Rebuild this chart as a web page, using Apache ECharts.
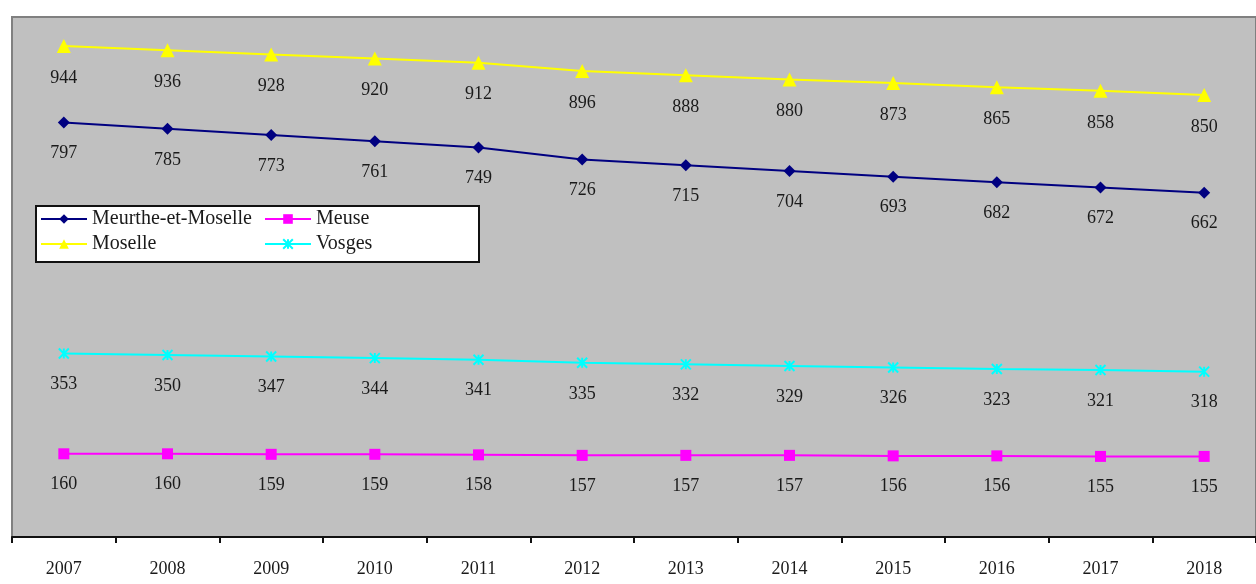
<!DOCTYPE html>
<html>
<head>
<meta charset="utf-8">
<script src="https://cdn.jsdelivr.net/npm/echarts@6/dist/echarts.min.js"></script>
<style>
html, body { margin: 0; padding: 0; background: #fff; }
#chart01 { width: 1256px; height: 584px; }
</style>
</head>
<body>
<div id="chart01"></div>
<script>
var years = ['2007','2008','2009','2010','2011','2012','2013','2014','2015','2016','2017','2018'];
var meurthe = [797, 785, 773, 761, 749, 726, 715, 704, 693, 682, 672, 662];
var meuse = [160, 160, 159, 159, 158, 157, 157, 157, 156, 156, 155, 155];
var moselle = [944, 936, 928, 920, 912, 896, 888, 880, 873, 865, 858, 850];
var vosges = [353, 350, 347, 344, 341, 335, 332, 329, 326, 323, 321, 318];

var serif = '"Liberation Serif", "DejaVu Serif", serif';
var crossPath = 'path://M0,0L10,10M10,0L0,10M5,0L5,10';

function lineSeries(name, data, color, symbol, size) {
    return {
        name: name,
        type: 'line',
        data: data,
        symbol: symbol,
        symbolSize: size,
        lineStyle: { color: color, width: 2 },
        itemStyle: { color: color },
        label: {
            show: true,
            position: 'bottom',
            distance: 16,
            fontFamily: serif,
            fontSize: 18,
            color: '#1a1a1a'
        },
        animation: false
    };
}

var legendText = { fontFamily: serif, fontSize: 20, color: '#1a1a1a' };

var myChart = echarts.init(document.getElementById('chart01'));
var option = {
    backgroundColor: '#fff',
    grid: {
        left: 12,
        top: 17,
        width: 1250,
        height: 520,
        show: true,
        backgroundColor: '#c0c0c0',
        borderColor: '#808080',
        borderWidth: 2
    },
    graphic: [{
        type: 'rect',
        shape: { x: 36, y: 206, width: 443, height: 56 },
        style: { fill: '#fff', stroke: '#111', lineWidth: 2 },
        z: 50
    }],
    legend: [{
        data: ['Meurthe-et-Moselle', 'Moselle'],
        orient: 'vertical',
        left: 40,
        top: 209,
        itemWidth: 46,
        itemHeight: 12,
        itemGap: 5,
        padding: 0,
        textStyle: legendText,
        z: 60
    }, {
        data: ['Meuse', 'Vosges'],
        orient: 'vertical',
        left: 264,
        top: 209,
        itemWidth: 46,
        itemHeight: 12,
        itemGap: 5,
        padding: 0,
        textStyle: legendText,
        z: 60
    }],
    xAxis: {
        type: 'category',
        data: years,
        boundaryGap: true,
        axisLine: { lineStyle: { color: '#111', width: 2 } },
        axisTick: { show: true, length: 6, lineStyle: { color: '#111', width: 2 } },
        axisLabel: { fontFamily: serif, fontSize: 18, color: '#1a1a1a', margin: 23 }
    },
    yAxis: {
        type: 'value',
        min: 0,
        max: 1000,
        axisLine: { show: false },
        axisTick: { show: false },
        axisLabel: { show: false },
        splitLine: { show: false }
    },
    series: [
        lineSeries('Meurthe-et-Moselle', meurthe, '#000080', 'diamond', 12),
        lineSeries('Meuse', meuse, '#ff00ff', 'rect', 11),
        lineSeries('Moselle', moselle, '#ffff00', 'triangle', 14),
        (function () {
            var s = lineSeries('Vosges', vosges, '#00ffff', crossPath, 10);
            s.itemStyle = { color: '#00ffff', borderColor: '#00ffff', borderWidth: 2 };
            return s;
        })()
    ]
};
if (option && typeof option === "object") {
    myChart.setOption(option, true);
}
</script>
</body>
</html>
